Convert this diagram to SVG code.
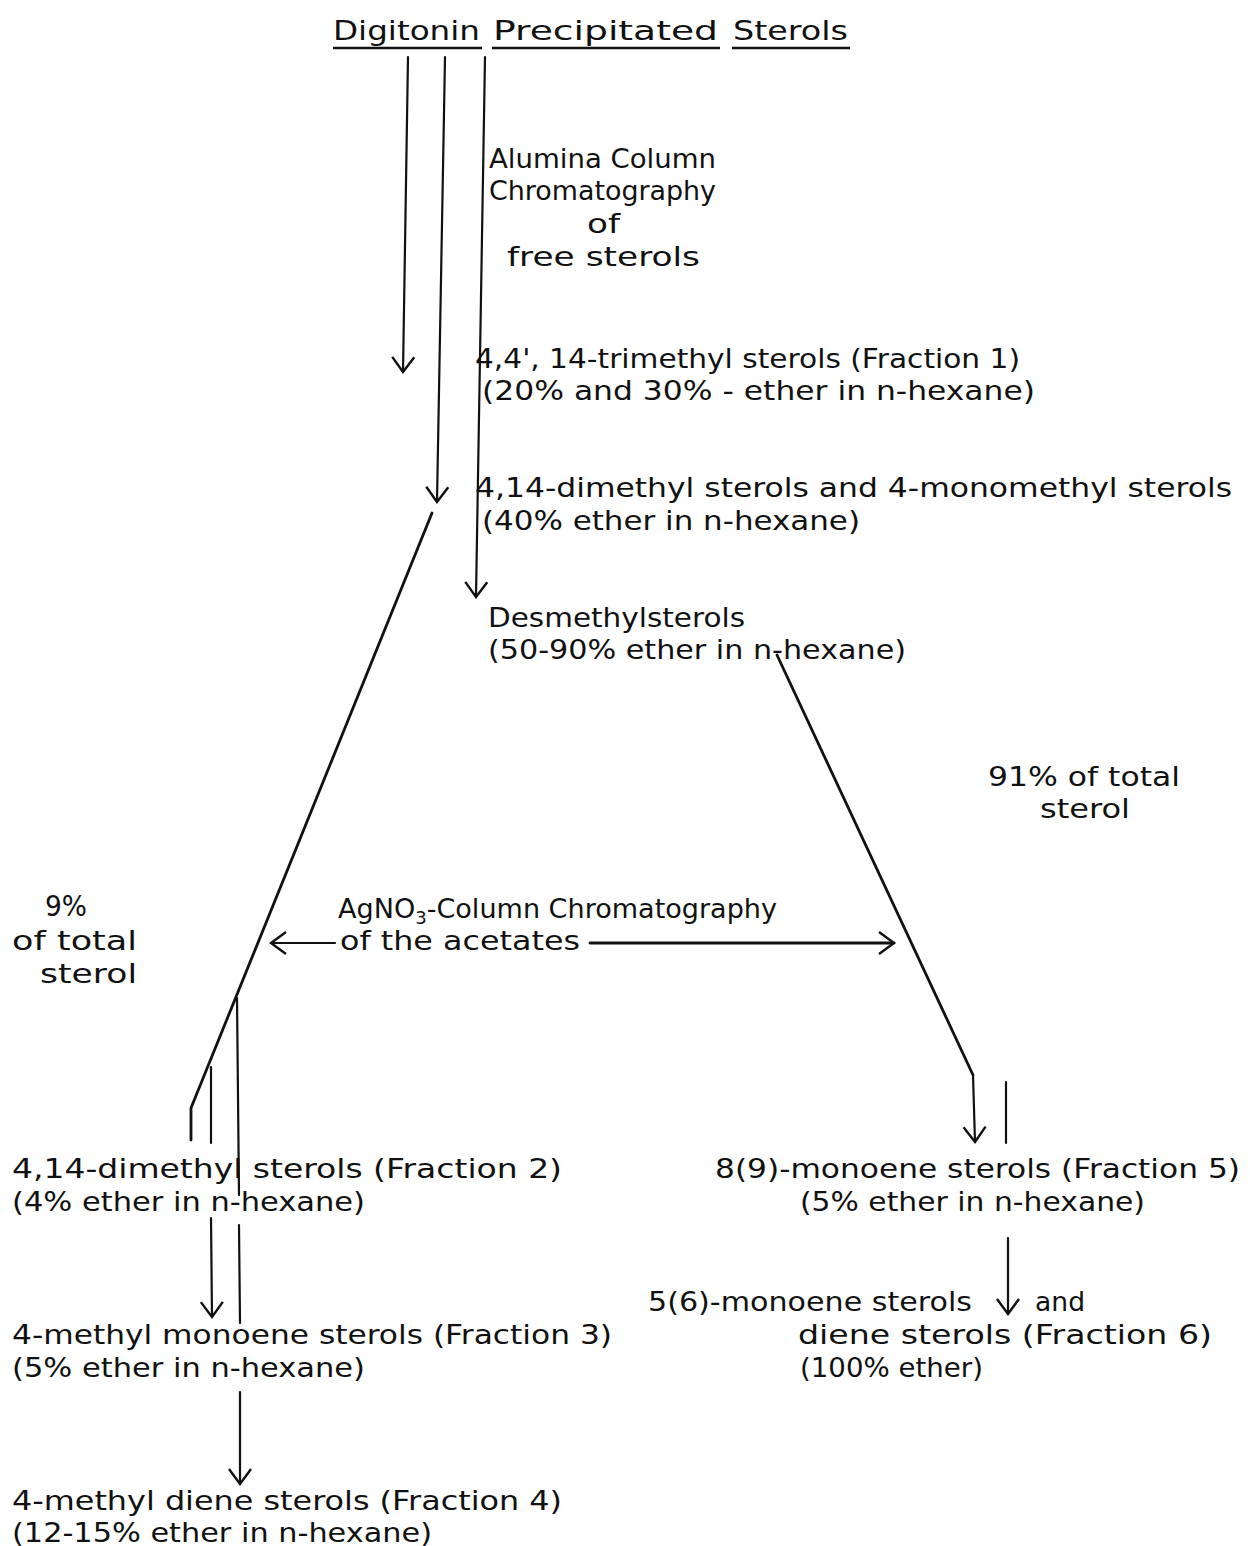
<svg xmlns="http://www.w3.org/2000/svg" width="1250" height="1546" viewBox="0 0 1250 1546">
<defs>
<style>
text{font-family:"DejaVu Sans","Liberation Sans",sans-serif;font-size:27px;fill:#111;}
.ln{stroke:#111;stroke-width:2.2;fill:none;stroke-linecap:round;}
.thk{stroke:#111;stroke-width:2.8;fill:none;stroke-linecap:round;}
.ul{stroke:#111;stroke-width:2.5;}
</style>
<marker id="ah" markerUnits="userSpaceOnUse" viewBox="-18 -13 20 26" markerWidth="20" markerHeight="26" refX="0" refY="0" orient="auto">
<path d="M-15,-11 L0,0 L-15,11" fill="none" stroke="#111" stroke-width="2.4" stroke-linejoin="miter"/>
</marker>
</defs>
<rect width="1250" height="1546" fill="#fff"/>

<g id="title">
<text x="333" y="40" textLength="147" lengthAdjust="spacingAndGlyphs">Digitonin</text>
<text x="493" y="40" textLength="225" lengthAdjust="spacingAndGlyphs">Precipitated</text>
<text x="733" y="40" textLength="115" lengthAdjust="spacingAndGlyphs">Sterols</text>
<line class="ul" x1="333" y1="48" x2="482" y2="48"/>
<line class="ul" x1="492" y1="48" x2="720" y2="48"/>
<line class="ul" x1="732" y1="48" x2="850" y2="48"/>
</g>

<g id="alumina">
<text x="489" y="168" textLength="227" lengthAdjust="spacingAndGlyphs">Alumina Column</text>
<text x="489" y="200" textLength="227" lengthAdjust="spacingAndGlyphs">Chromatography</text>
<text x="587" y="233" textLength="33" lengthAdjust="spacingAndGlyphs">of</text>
<text x="507" y="266" textLength="193" lengthAdjust="spacingAndGlyphs">free sterols</text>
</g>

<g id="fraction1">
<text x="475" y="368" textLength="545" lengthAdjust="spacingAndGlyphs">4,4', 14-trimethyl sterols (Fraction 1)</text>
<text x="482" y="400" textLength="553" lengthAdjust="spacingAndGlyphs">(20% and 30% - ether in n-hexane)</text>
</g>

<g id="dimethyl">
<text x="475" y="497" textLength="757" lengthAdjust="spacingAndGlyphs">4,14-dimethyl sterols and 4-monomethyl sterols</text>
<text x="482" y="530" textLength="378" lengthAdjust="spacingAndGlyphs">(40% ether in n-hexane)</text>
</g>

<g id="desmethyl">
<text x="488" y="627" textLength="257" lengthAdjust="spacingAndGlyphs">Desmethylsterols</text>
<text x="488" y="659" textLength="418" lengthAdjust="spacingAndGlyphs">(50-90% ether in n-hexane)</text>
</g>

<g id="pct91">
<text x="988" y="786" textLength="192" lengthAdjust="spacingAndGlyphs">91% of total</text>
<text x="1040" y="818" textLength="90" lengthAdjust="spacingAndGlyphs">sterol</text>
</g>

<g id="pct9">
<text x="45" y="916" style="font-size:29px" textLength="42" lengthAdjust="spacingAndGlyphs">9%</text>
<text x="12" y="950" textLength="125" lengthAdjust="spacingAndGlyphs">of total</text>
<text x="40" y="983" textLength="97" lengthAdjust="spacingAndGlyphs">sterol</text>
</g>

<g id="agno3">
<text x="338" y="918" textLength="439" lengthAdjust="spacingAndGlyphs">AgNO<tspan dy="6" style="font-size:18px">3</tspan><tspan dy="-6">-Column Chromatography</tspan></text>
<text x="340" y="950" textLength="240" lengthAdjust="spacingAndGlyphs">of the acetates</text>
</g>

<g id="fraction2">
<text x="12" y="1178" textLength="550" lengthAdjust="spacingAndGlyphs">4,14-dimethyl sterols (Fraction 2)</text>
<text x="12" y="1211" textLength="353" lengthAdjust="spacingAndGlyphs">(4% ether in n-hexane)</text>
</g>

<g id="fraction3">
<text x="12" y="1344" textLength="600" lengthAdjust="spacingAndGlyphs">4-methyl monoene sterols (Fraction 3)</text>
<text x="12" y="1377" textLength="353" lengthAdjust="spacingAndGlyphs">(5% ether in n-hexane)</text>
</g>

<g id="fraction4">
<text x="12" y="1510" textLength="550" lengthAdjust="spacingAndGlyphs">4-methyl diene sterols (Fraction 4)</text>
<text x="12" y="1542" textLength="420" lengthAdjust="spacingAndGlyphs">(12-15% ether in n-hexane)</text>
</g>

<g id="fraction5">
<text x="715" y="1178" textLength="525" lengthAdjust="spacingAndGlyphs">8(9)-monoene sterols (Fraction 5)</text>
<text x="800" y="1211" textLength="345" lengthAdjust="spacingAndGlyphs">(5% ether in n-hexane)</text>
</g>

<g id="fraction6">
<text x="648" y="1311" textLength="324" lengthAdjust="spacingAndGlyphs">5(6)-monoene sterols</text>
<text x="1035" y="1311" textLength="50" lengthAdjust="spacingAndGlyphs">and</text>
<text x="798" y="1344" textLength="414" lengthAdjust="spacingAndGlyphs">diene sterols (Fraction 6)</text>
<text x="800" y="1377" textLength="183" lengthAdjust="spacingAndGlyphs">(100% ether)</text>
</g>

<g id="connectors">
<path class="ln" d="M408,57 L403,372" marker-end="url(#ah)"/>
<path class="ln" d="M445,57 L437,502" marker-end="url(#ah)"/>
<path class="ln" d="M485,57 L476,597" marker-end="url(#ah)"/>
<path class="thk" d="M432,513 L191,1108 L191,1140"/>
<path class="ln" d="M211,1067 L211,1143"/>
<path class="ln" d="M211,1218 L212,1317" marker-end="url(#ah)"/>
<path class="ln" d="M237,998 L239,1195"/>
<path class="ln" d="M239,1225 L240,1323"/>
<path class="ln" d="M240,1392 L240,1484" marker-end="url(#ah)"/>
<path class="thk" d="M777,655 L973,1075"/>
<path class="ln" d="M973,1075 L975,1142" marker-end="url(#ah)"/>
<path class="ln" d="M1006,1082 L1006,1143"/>
<path class="ln" d="M1008,1238 L1008,1314" marker-end="url(#ah)"/>
<path class="ln" d="M335,943 L271,943" marker-end="url(#ah)"/>
<path class="thk" d="M590,943 L894,943" marker-end="url(#ah)"/>
</g>
</svg>
